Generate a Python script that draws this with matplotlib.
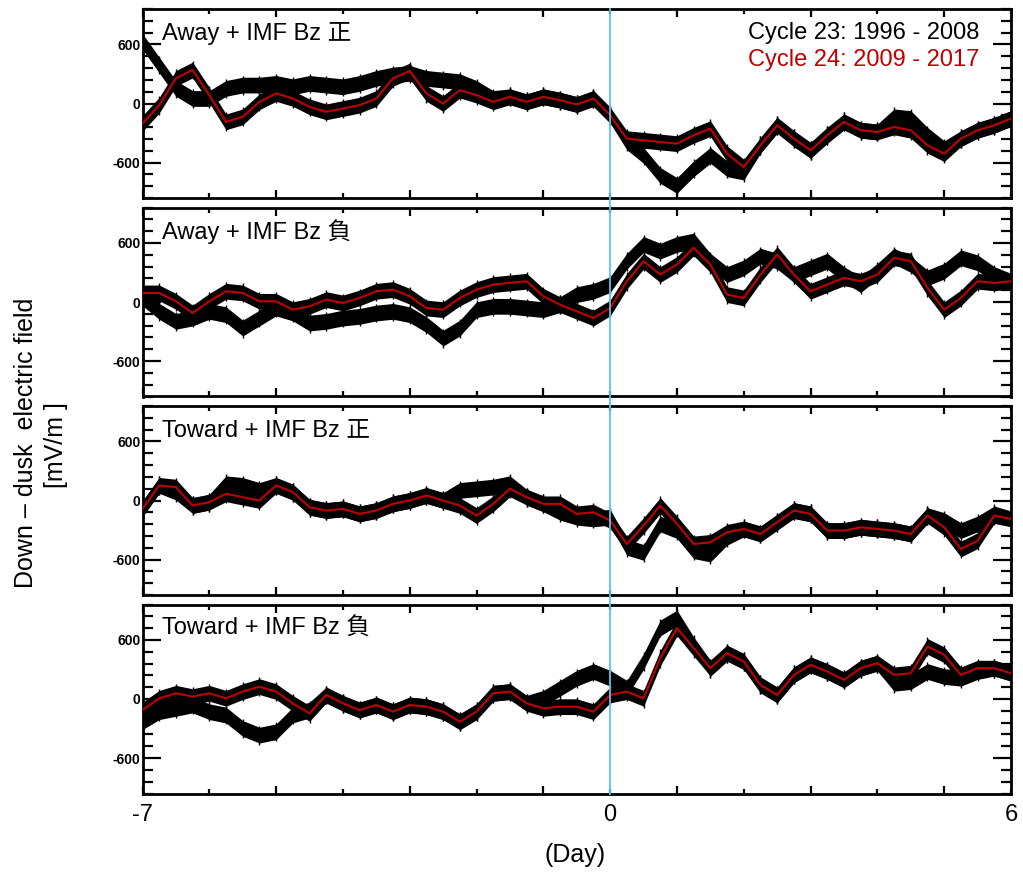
import numpy as np
import matplotlib
matplotlib.use("Agg")
import matplotlib.pyplot as plt
from matplotlib.lines import Line2D
from matplotlib.ticker import FixedLocator, MultipleLocator, NullFormatter

plt.rcParams['font.family'] = ['Liberation Sans', 'Noto Sans CJK JP', 'DejaVu Sans']

# days relative to the event, every 6 hours
day = np.arange(-7, 6.01, 0.25)
err = 80  # half-width of the error bars [mV/m]

titles = ['Away + IMF Bz 正', 'Away + IMF Bz 負', 'Toward + IMF Bz 正', 'Toward + IMF Bz 負']

# Cycle 23 (black)
away_pos_c23 = [629, 391, 153, 51, 51, 153, 187, 187, 204, 170, 204, 187, 170, 204, 255, 289, 306, 255,
                238, 221, 153, 51, 68, 17, 68, 34, -10, 51, -119, -391, -527, -731, -833, -663, -527,
                -663, -697, -425, -221, -357, -476, -323, -187, -272, -289, -136, -153, -323, -459,
                -357, -272, -221, -153]
away_neg_c23 = [41, -95, -197, -163, -95, -129, -265, -163, -61, -112, -214, -197, -163, -146, -112, -95,
                -129, -230, -367, -265, -78, -44, -44, -61, -78, -27, 75, 109, 177, 415, 585, 517, 585,
                619, 415, 279, 347, 466, 415, 279, 347, 415, 279, 177, 313, 466, 381, 245, 313, 449,
                398, 279, 211]
toward_pos_c23 = [-85, 153, 85, -51, -17, 170, 153, 102, 153, 85, -68, -102, -85, -136, -102, -34, 0, 51,
                  0, 102, 119, 136, 170, 34, -34, -119, -170, -187, -170, -476, -527, -238, -306, -510,
                  -544, -374, -289, -340, -221, -102, -136, -306, -306, -272, -289, -306, -340, -153,
                  -204, -306, -238, -136, -187]
toward_neg_c23 = [-231, -129, -95, -61, -129, -163, -299, -367, -333, -163, -112, 41, -44, -112, -61, -129,
                  -61, -78, -129, -231, -129, 58, 75, -44, 7, 109, 211, 279, 211, 109, 381, 721, 823,
                  551, 313, 466, 381, 143, 41, 245, 347, 279, 194, 313, 364, 160, 177, 279, 228, 211,
                  279, 313, 262]

# Cycle 24 (red)
away_pos_c24 = [-204, -17, 255, 340, 85, -187, -136, 17, 102, 51, -34, -85, -51, -17, 51, 255, 330, 102,
                0, 136, 85, 17, 68, 17, 68, 34, -10, 51, -119, -357, -374, -391, -408, -323, -255,
                -510, -646, -425, -221, -357, -476, -323, -187, -272, -289, -238, -272, -425, -510,
                -357, -272, -221, -153]
away_neg_c24 = [92, 92, 7, -112, 7, 109, 92, 7, 7, -78, -44, 24, -10, 41, 109, 126, 58, -61, -78, 41,
                126, 177, 194, 211, 58, -27, -95, -163, -61, 211, 415, 279, 381, 551, 381, 75, 41, 279,
                483, 279, 109, 177, 245, 211, 279, 449, 415, 143, -78, 41, 211, 194, 211]
toward_pos_c24 = [-85, 153, 136, -51, -17, 68, 34, 0, 153, 85, -68, -102, -85, -136, -102, -34, 0, 51,
                  0, -51, -153, -34, 119, 34, -34, -34, -136, -119, -204, -442, -255, -51, -238, -442,
                  -425, -323, -289, -340, -221, -102, -136, -306, -306, -272, -289, -306, -340, -153,
                  -272, -493, -408, -153, -187]
toward_neg_c24 = [-112, 7, 58, 24, 58, 7, 75, 126, 75, -44, -146, 41, -44, -112, -61, -129, -61, -78,
                  -129, -231, -129, 58, 75, -44, -95, -78, -78, -129, 41, 75, 7, 415, 721, 517, 313, 466,
                  381, 143, 41, 245, 347, 279, 194, 313, 364, 245, 262, 534, 449, 245, 313, 313, 262]

c23_all = [away_pos_c23, away_neg_c23, toward_pos_c23, toward_neg_c23]
c24_all = [away_pos_c24, away_neg_c24, toward_pos_c24, toward_neg_c24]

W, H = 1023, 875
fig = plt.figure(figsize=(W / 100, H / 100), dpi=100)

RED = '#c00000'
axes = []
for i in range(4):
    top = 9 + i * 198.5
    ax = fig.add_axes([142.5 / W, 1 - (top + 189) / H, 868.5 / W, 189 / H])
    axes.append(ax)
    for vals in [c23_all[i], c24_all[i]]:
        y = np.array(vals, dtype=float)
        ax.fill_between(day, y - err, y + err, color='k', lw=0, zorder=2)
        ax.errorbar(day, y, yerr=err * 1.2, fmt='none', ecolor='k', elinewidth=1.0, zorder=2)
    ax.plot(day, c23_all[i], color='k', lw=1.2, zorder=3)
    ax.plot(day, c24_all[i], color=RED, lw=1.5, zorder=4)

    ax.set_xlim(-7, 6)
    ax.set_ylim(-960, 960)
    ax.xaxis.set_major_locator(FixedLocator([-7, -5, -3, -1, 1, 3, 5]))
    ax.xaxis.set_minor_locator(MultipleLocator(1))
    ax.xaxis.set_major_formatter(NullFormatter())
    ax.yaxis.set_major_locator(FixedLocator([-600, 0, 600]))
    ax.yaxis.set_minor_locator(MultipleLocator(120))
    ax.set_yticklabels(['-600', '0', '600'], fontsize=10, fontweight='bold')
    ax.tick_params(axis='both', which='both', direction='in', top=True, right=True, width=1.6)
    ax.tick_params(axis='y', which='major', length=13, pad=1.5)
    ax.tick_params(axis='y', which='minor', length=7)
    ax.tick_params(axis='x', which='major', length=5.5)
    ax.tick_params(axis='x', which='minor', length=3.5)
    for s in ax.spines.values():
        s.set_linewidth(2.0)

    ax.text(0.0225, 0.873, titles[i], transform=ax.transAxes, fontsize=17,
            ha='left', va='center', zorder=6)

axes[0].text(0.964, 0.873, 'Cycle 23: 1996 - 2008', transform=axes[0].transAxes,
             fontsize=17, color='k', ha='right', va='center')
axes[0].text(0.964, 0.730, 'Cycle 24: 2009 - 2017', transform=axes[0].transAxes,
             fontsize=17, color=RED, ha='right', va='center')

# x labels only at the ends and at zero
bot = axes[-1]
for v, s in [(-7, '-7'), (0, '0'), (6, '6')]:
    bot.text(v, -0.115, s, transform=bot.get_xaxis_transform(), fontsize=17,
             ha='center', va='center')
fig.text(575 / W, 1 - 855 / H, '(Day)', fontsize=18, ha='center', va='center')

fig.text(26 / W, 1 - 443 / H, 'Down – dusk  electric field', rotation=90, fontsize=18,
         ha='center', va='center')
fig.text(56 / W, 1 - 445 / H, '[mV/m ]', rotation=90, fontsize=18, ha='center', va='center')

# zero-day line across all panels
fig.canvas.draw()
inv = fig.transFigure.inverted()
x0, ytop = inv.transform(axes[0].transData.transform((0, 960)))
_, ybot = inv.transform(axes[-1].transData.transform((0, -960)))
fig.add_artist(Line2D([x0, x0], [ybot, ytop], transform=fig.transFigure,
                      color='#5ec3ee', lw=1.3, zorder=10))

fig.savefig('out.png', dpi=100)
